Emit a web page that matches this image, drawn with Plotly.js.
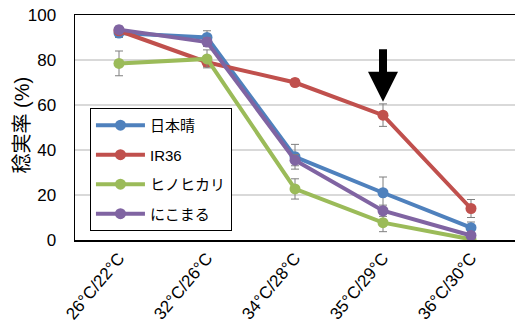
<!DOCTYPE html>
<html><head><meta charset="utf-8">
<script src="https://cdn.plot.ly/plotly-3.0.1.min.js"></script>
<style>html,body{margin:0;padding:0;background:#fff;}#chart{width:515px;height:331px;}</style>
</head><body><div id="chart"></div>
<script>
const categories = ["26°C/22°C", "32°C/26°C", "34°C/28°C", "35°C/29°C", "36°C/30°C"];
const seriesNames = ["日本晴", "IR36", "ヒノヒカリ", "にこまる"];
const yTitle = "稔実率 (%)";
const nipponbare = [92, 90, 37, 21, 5.5];
const nipponbareErr = [2, 3, 5.5, 7, 2.5];
const ir36 = [93, 79, 70, 55.5, 14];
const ir36Err = [1.5, 2, 1.5, 5, 4];
const hinohikari = [78.5, 80.5, 22.7, 7.7, 0.3];
const hinohikariErr = [5.5, 4, 4.5, 4, 0.5];
const nikomaru = [93.5, 88, 35.5, 13, 2];
const nikomaruErr = [1.5, 2, 2.5, 2.5, 1.5];
const colors = ["#4F81BD", "#C0504D", "#9BBB59", "#8064A2"];

const values = [nipponbare, ir36, hinohikari, nikomaru];
const errs = [nipponbareErr, ir36Err, hinohikariErr, nikomaruErr];
const FONT = "Liberation Sans, Arial, Noto Sans CJK JP, sans-serif";

const traces = values.map((v, i) => ({
  type: "scatter", mode: "lines+markers",
  name: seriesNames[i], legendgroup: "g" + i,
  x: categories, y: v,
  line: {color: colors[i], width: 4},
  marker: {color: colors[i], size: 11},
  error_y: {type: "data", array: errs[i], visible: true, color: "#7F7F7F", thickness: 1, width: 4}
}));

const layout = {
  width: 515, height: 331,
  margin: {l: 75, r: 0, t: 15, b: 91},
  paper_bgcolor: "#fff", plot_bgcolor: "#fff",
  font: {family: FONT, size: 16, color: "#000"},
  showlegend: true,
  legend: {
    x: 0.034, y: 0.587, xanchor: "left", yanchor: "top",
    bgcolor: "#fff", bordercolor: "#000", borderwidth: 1,
    font: {family: FONT, size: 15, color: "#000"},
    traceorder: "grouped", tracegroupgap: 7, itemwidth: 49
  },
  xaxis: {
    type: "category", range: [-0.5, 4.5],
    showline: true, linecolor: "#000", linewidth: 1.5, mirror: true,
    showgrid: false, ticks: "", tickangle: -50,
    tickfont: {family: FONT, size: 17, color: "#000"}
  },
  yaxis: {
    range: [0, 100], dtick: 20,
    showline: true, linecolor: "#000", linewidth: 1.5,
    showgrid: true, gridcolor: "#D9D9D9", gridwidth: 1.5,
    zeroline: false, ticks: "", ticklabelstandoff: 14,
    tickfont: {family: FONT, size: 17, color: "#000"}
  },
  annotations: [{
    x: categories[3], y: 61.5, xref: "x", yref: "y",
    ax: 0, ay: -54, axref: "pixel", ayref: "pixel",
    showarrow: true, arrowhead: 2, arrowsize: 0.75, arrowwidth: 8, arrowcolor: "#000", text: ""
  }, {
    text: yTitle, xref: "paper", yref: "paper", x: -0.12, y: 0.51,
    xanchor: "center", yanchor: "middle", textangle: -90, showarrow: false,
    font: {family: FONT, size: 20, color: "#000"}
  }]
};

Plotly.newPlot("chart", traces, layout, {displayModeBar: false, staticPlot: true});
</script></body></html>
